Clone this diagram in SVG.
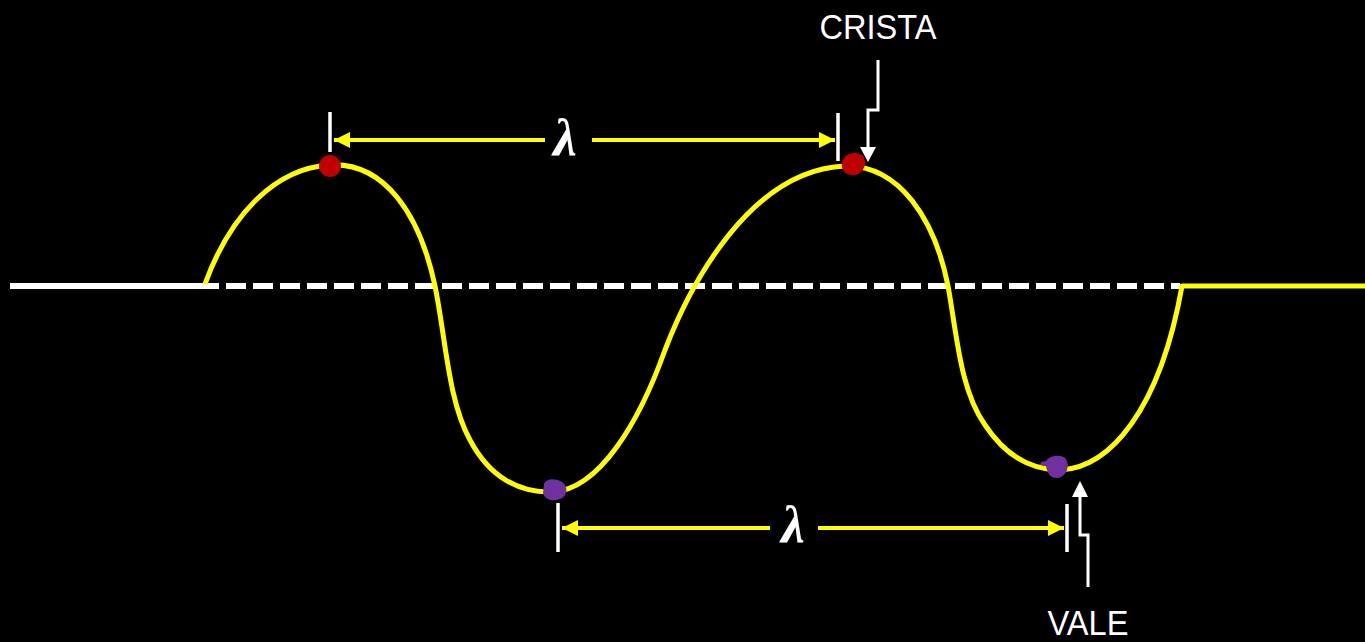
<svg xmlns="http://www.w3.org/2000/svg" width="1365" height="642" viewBox="0 0 1365 642">
<defs>
<style>
.yl{stroke:#FFFF00;stroke-width:4;fill:none}
.tick{stroke:#FFFFFF;stroke-width:3.5;fill:none}
.wv{stroke:#FFFF00;stroke-width:5;fill:none;stroke-linejoin:round}
.lbl{fill:#FFFFFF;font-family:"Liberation Sans",Arial,sans-serif;font-size:35px;text-anchor:middle}
.lam{fill:#FFFFFF;font-family:"Liberation Serif","DejaVu Serif",serif;font-style:italic;font-weight:bold;font-size:53px;text-anchor:middle}
.ptr{stroke:#FFFFFF;stroke-width:3;fill:none}
</style>
<marker id="ya" viewBox="0 0 10 10" refX="10" refY="5" markerWidth="4" markerHeight="4" orient="auto-start-reverse" markerUnits="strokeWidth">
<path d="M0,0 L10,5 L0,10 Z" fill="#FFFF00"/>
</marker>
</defs>
<rect x="0" y="0" width="1365" height="642" fill="#000000"/>
<g id="axis">
<line x1="10" y1="286" x2="199" y2="286" stroke="#FFFFFF" stroke-width="6"/>
<line x1="199" y1="286" x2="1180" y2="286" stroke="#FFFFFF" stroke-width="6" stroke-dasharray="20 7"/>
</g>
<g id="wave">
<path class="wv" d="M205,284 C230,215 275,168 330,165 C385,162 420,215 435,286 C446,340 448,400 470,440 C490,478 520,493 552,492 C600,490 640,420 665,350 C690,285 750,170 845,166 C900,165 935,220 948,286 C957,335 960,390 985,425 C1005,455 1030,470 1060,470 C1110,468 1160,410 1182,286 L1365,286"/>
</g>
<g id="dots">
<circle cx="330" cy="166" r="11" fill="#C00000"/>
<path d="M843,160 C846,152 858,151 863,156 C868,162 864,174 854,175 C845,176 839,168 843,160 Z" fill="#C00000"/>
<path d="M544,484 C546,478 556,478 562,482 C569,487 567,497 560,499 C553,502 545,500 543,493 Z" fill="#7030A0"/>
<path d="M1046,461 C1050,455 1062,454 1066,459 C1070,466 1067,476 1058,478 C1050,479 1047,472 1046,466 L1040,465 L1041,462 Z" fill="#7030A0"/>
</g>
<g id="connectors">
<line class="tick" x1="330" y1="112" x2="330" y2="152"/>
<line class="tick" x1="838" y1="113" x2="838" y2="161"/>
<line class="yl" x1="545" y1="140" x2="334" y2="140" marker-end="url(#ya)"/>
<line class="yl" x1="592" y1="140" x2="835" y2="140" marker-end="url(#ya)"/>
<line class="tick" x1="558" y1="503" x2="558" y2="552"/>
<line class="tick" x1="1067" y1="504" x2="1067" y2="552"/>
<line class="yl" x1="770" y1="528" x2="562" y2="528" marker-end="url(#ya)"/>
<line class="yl" x1="818" y1="528" x2="1064" y2="528" marker-end="url(#ya)"/>
<path class="ptr" d="M878,60 L878,110 L868,110 L868,148"/>
<path d="M860,147 L876,147 L868,162 Z" fill="#FFFFFF"/>
<path class="ptr" d="M1088,587 L1088,535 L1080,535 L1080,496"/>
<path d="M1072,497 L1088,497 L1080,481 Z" fill="#FFFFFF"/>
</g>
<g id="labels">
<text class="lam" x="565" y="155">λ</text>
<text class="lam" x="793" y="542">λ</text>
<text class="lbl" x="878" y="39" textLength="117" lengthAdjust="spacingAndGlyphs">CRISTA</text>
<text class="lbl" x="1088" y="635" textLength="81" lengthAdjust="spacingAndGlyphs">VALE</text>
</g>
</svg>
